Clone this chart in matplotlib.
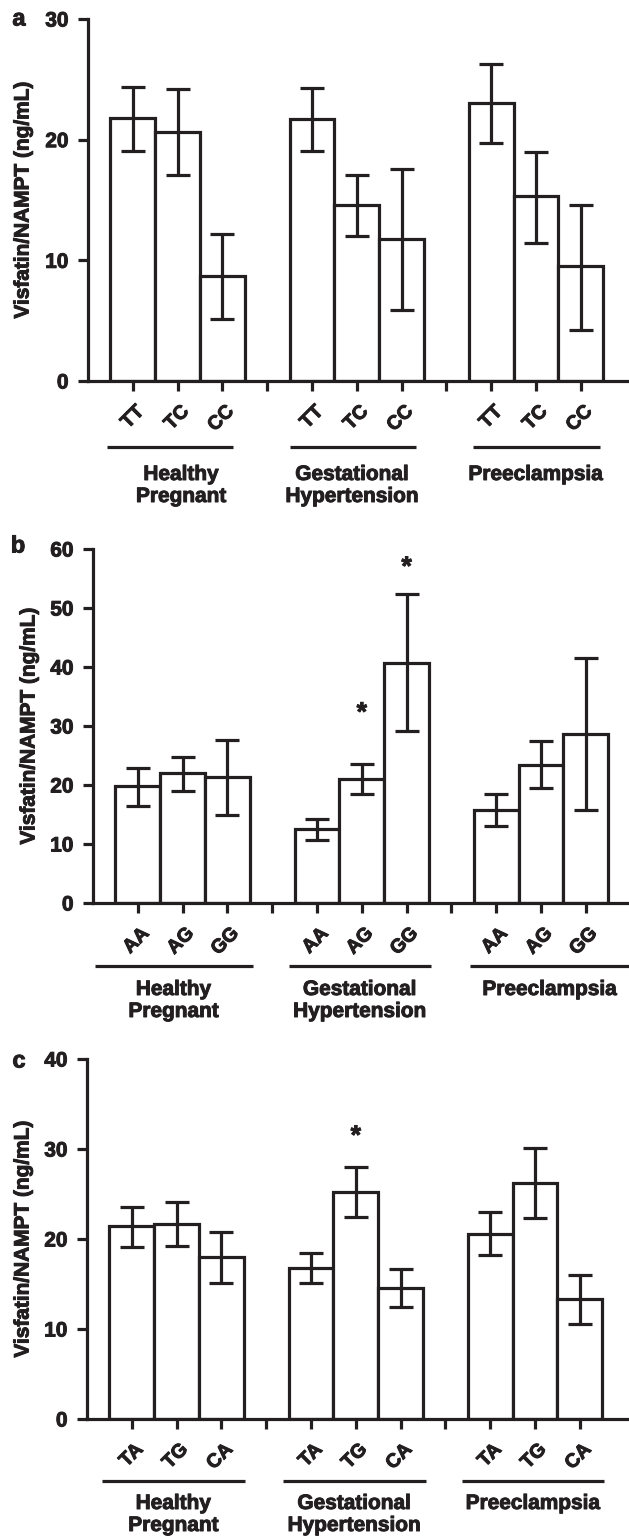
import numpy as np
import matplotlib
matplotlib.use('Agg')
import matplotlib.pyplot as plt
from matplotlib import patheffects

plt.rcParams['font.family'] = ['Liberation Sans', 'DejaVu Sans']
plt.rcParams['font.weight'] = 'bold'

INK = '#231f20'
W, H = 629, 1540
heavy = [patheffects.withStroke(linewidth=0.7, foreground=INK)]

# bar positions: three genotypes per group, a gap tick between groups
xpos = [1, 2, 3, 5, 6, 7, 9, 10, 11]
groups = ['Healthy\nPregnant', 'Gestational\nHypertension', 'Preeclampsia']

# panel a: TT / TC / CC
geno_a = ['TT', 'TC', 'CC']
means_a = [21.8, 20.65, 8.7, 21.7, 14.6, 11.8, 23.05, 15.3, 9.5]
upper_a = [24.4, 24.2, 12.2, 24.3, 17.1, 17.6, 26.3, 19.0, 14.6]
lower_a = [19.05, 17.1, 5.1, 19.05, 12.0, 5.9, 19.75, 11.4, 4.2]

# panel b: AA / AG / GG
geno_b = ['AA', 'AG', 'GG']
means_b = [19.75, 21.95, 21.3, 12.5, 21.0, 40.6, 15.8, 23.4, 28.7]
upper_b = [22.8, 24.8, 27.65, 14.3, 23.6, 52.3, 18.5, 27.5, 41.6]
lower_b = [16.5, 18.9, 14.95, 10.6, 18.45, 29.1, 13.0, 19.5, 15.8]
stars_b_idx = [4, 5]
stars_b_top = [34.0, 58.7]

# panel c: TA / TG / CA
geno_c = ['TA', 'TG', 'CA']
means_c = [21.4, 21.7, 18.0, 16.75, 25.2, 14.6, 20.6, 26.2, 13.35]
upper_c = [23.6, 24.1, 20.8, 18.4, 27.95, 16.7, 23.05, 30.1, 16.0]
lower_c = [19.1, 19.25, 15.1, 15.1, 22.4, 12.4, 18.2, 22.3, 10.6]
stars_c_idx = [4]
stars_c_top = [32.6]

panels = [
    dict(letter='a', letter_xy=(19, 19), box=(88, 19, 628, 381), ymax=30, ystep=10,
         geno=geno_a, means=means_a, upper=upper_a, lower=lower_a,
         stars_idx=[], stars_top=[], ylab_x=23,
         spans=[(0.42, 3.24), (4.5, 7.33), (8.59, 11.42)], line_off=66,
         centers=[2.08, 5.9, 10.0], text_off=84),
    dict(letter='b', letter_xy=(18, 546), box=(93, 549, 629, 903), ymax=60, ystep=10,
         geno=geno_b, means=means_b, upper=upper_b, lower=lower_b,
         stars_idx=stars_b_idx, stars_top=stars_b_top, ylab_x=29,
         spans=[(0.04, 3.58), (4.38, 7.55), (8.41, 12.0)], line_off=63,
         centers=[1.8, 5.96, 10.2], text_off=77),
    dict(letter='c', letter_xy=(19, 1061), box=(87, 1059, 629, 1419), ymax=40, ystep=10,
         geno=geno_c, means=means_c, upper=upper_c, lower=lower_c,
         stars_idx=stars_c_idx, stars_top=stars_c_top, ylab_x=23,
         spans=[(0.33, 3.52), (4.38, 7.57), (8.38, 11.54)], line_off=62,
         centers=[1.93, 5.97, 9.96], text_off=75),
]

fig = plt.figure(figsize=(W / 100, H / 100), dpi=100)

for p in panels:
    left, top, right, bottom = p['box']
    ax = fig.add_axes([left / W, 1 - bottom / H, (right - left) / W, (bottom - top) / H])
    xmax = (right - left) / 44.8
    means = np.array(p['means'])
    err = [means - np.array(p['lower']), np.array(p['upper']) - means]

    ax.bar(xpos, means, width=1.0, color='white', edgecolor=INK, linewidth=2.3, zorder=2)
    ax.errorbar(xpos, means, yerr=err, fmt='none', ecolor=INK, elinewidth=2.3,
                capsize=8.5, capthick=2.3, zorder=3)

    ax.set_xlim(0, xmax)
    ax.set_ylim(0, p['ymax'])
    for s in ['top', 'right']:
        ax.spines[s].set_visible(False)
    for s in ['left', 'bottom']:
        ax.spines[s].set_linewidth(2.3)
        ax.spines[s].set_color(INK)

    ax.set_yticks(np.arange(0, p['ymax'] + 1, p['ystep']))
    ax.tick_params(axis='y', length=7, width=2.3, color=INK, labelsize=15, pad=7, labelcolor=INK)
    for lbl in ax.get_yticklabels():
        lbl.set_path_effects(heavy)
    ax.set_xticks(range(1, 12))
    ax.set_xticklabels([])
    ax.tick_params(axis='x', length=7, width=2.3, color=INK)

    # rotated genotype labels under the ticks
    tick_labels = p['geno'] + [''] + p['geno'] + [''] + p['geno']
    for x, lbl in zip(range(1, 12), tick_labels):
        if lbl:
            ax.annotate(lbl, xy=(x, 0), xytext=(9, -28), textcoords='offset pixels',
                        rotation=45, rotation_mode='anchor', ha='right', va='center',
                        fontsize=14, color=INK, annotation_clip=False, path_effects=heavy)

    # group underlines and names below the axis
    ppu = (bottom - top) / p['ymax']
    yl = -p['line_off'] / ppu
    for (x0, x1), cx, name in zip(p['spans'], p['centers'], groups):
        ax.plot([x0, x1], [yl, yl], color=INK, lw=2.3, clip_on=False, solid_capstyle='butt')
        ax.annotate(name, xy=(cx, 0), xytext=(0, -p['text_off']), textcoords='offset pixels',
                    ha='center', va='top', fontsize=15, color=INK, annotation_clip=False,
                    path_effects=heavy)

    for i, yt in zip(p['stars_idx'], p['stars_top']):
        ax.annotate('*', xy=(xpos[i], yt), xytext=(0, -18), textcoords='offset pixels',
                    ha='center', va='baseline', fontsize=19, color=INK, path_effects=heavy)

    fig.text(p['ylab_x'] / W, 1 - (top + bottom) / 2 / H, 'Visfatin/NAMPT (ng/mL)',
             rotation=90, ha='center', va='center', fontsize=15, color=INK, path_effects=heavy)
    lx, ly = p['letter_xy']
    fig.text(lx / W, 1 - ly / H, p['letter'], ha='center', va='center', fontsize=17,
             color=INK, path_effects=heavy)

fig.savefig('out.png', dpi=100)
